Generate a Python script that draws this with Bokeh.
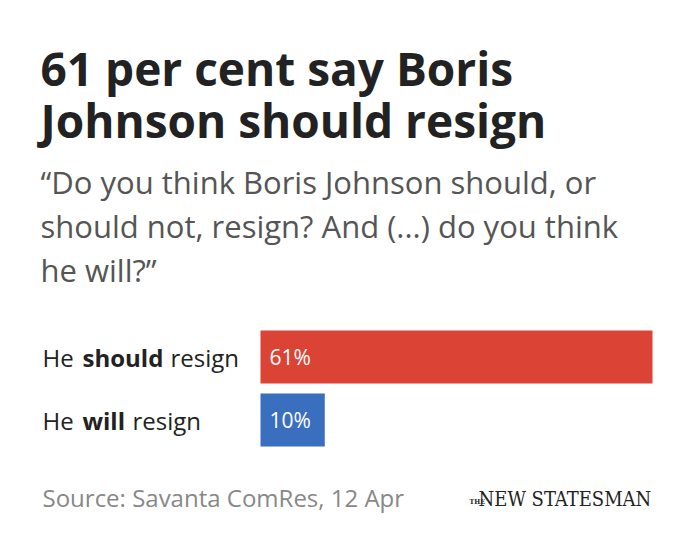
from bokeh.plotting import figure
from bokeh.models import Range1d, Label, ColumnDataSource
from bokeh.core.properties import value
from bokeh.embed import file_html
from bokeh.resources import INLINE

# ---- data ----
title_lines = ["61 per cent say Boris", "Johnson should resign"]
subtitle_lines = ["\u201cDo you think Boris Johnson should, or",
                  "should not, resign? And (...) do you think",
                  "he will?\u201d"]
label_pre = ["He", "He"]
label_bold = ["should", "will"]
label_post = ["resign", "resign"]
values = [61, 10]
value_labels = ["61%", "10%"]
colors = ["#DB4334", "#3A6FBF"]
source_text = "Source: Savanta ComRes, 12 Apr"

W, H = 694, 558
BAR_LEFT = 260
PX_PER_PCT = 392 / 61.0
FONT = "Open Sans"

p = figure(width=W, height=H, output_backend="svg", toolbar_location=None,
           x_range=Range1d(-BAR_LEFT / PX_PER_PCT, (W - BAR_LEFT) / PX_PER_PCT),
           y_range=Range1d(H, 0), min_border=0)
p.axis.visible = False
p.grid.visible = False
p.outline_line_color = None
p.background_fill_color = "white"
p.border_fill_color = "white"

ycent = [356.5, 419.5]
src = ColumnDataSource(dict(y=ycent, right=values, left=[0, 0], color=colors,
                            lab=value_labels, pre=label_pre, bold=label_bold,
                            post=label_post, post_off=[170 - BAR_LEFT, 132 - BAR_LEFT]))
p.hbar(y="y", left="left", right="right", height=53, color="color", source=src, line_color=None)

p.text(x="left", y="y", text="lab", source=src, x_offset=9, text_color="white",
       text_font=value(FONT), text_font_size="21px", text_baseline="middle", text_align="left")
p.text(x="left", y="y", text="pre", source=src, x_offset=42 - BAR_LEFT, text_color="#222222",
       text_font=value(FONT), text_font_size="24px", text_baseline="middle", text_align="left")
p.text(x="left", y="y", text="bold", source=src, x_offset=82 - BAR_LEFT, text_color="#222222",
       text_font=value(FONT), text_font_style="bold", text_font_size="24px",
       text_baseline="middle", text_align="left")
p.text(x="left", y="y", text="post", source=src, x_offset="post_off", text_color="#222222",
       text_font=value(FONT), text_font_size="24px", text_baseline="middle", text_align="left")

for i, t in enumerate(title_lines):
    p.add_layout(Label(x=40, x_units="screen", y=67 + 52 * i, text=t, text_font=FONT,
                       text_font_style="bold", text_font_size="46px", text_color="#222222",
                       text_baseline="alphabetic"))
for i, t in enumerate(subtitle_lines):
    p.add_layout(Label(x=40, x_units="screen", y=181 + 44 * i, text=t, text_font=FONT,
                       text_font_size="31px", text_color="#555555",
                       text_baseline="alphabetic"))

p.add_layout(Label(x=42, x_units="screen", y=497, text=source_text, text_font=FONT,
                   text_font_size="24px", text_color="#888888", text_baseline="alphabetic"))
p.add_layout(Label(x=469, x_units="screen", y=501, text="THE", text_font="DejaVu Serif Condensed",
                   text_font_style="bold", text_font_size="7px", text_color="#222222",
                   text_baseline="alphabetic"))
p.add_layout(Label(x=478, x_units="screen", y=498, text="NEW STATESMAN",
                   text_font="DejaVu Serif Condensed", text_font_size="20px",
                   text_color="#222222", text_baseline="alphabetic"))

open("out.html", "w").write(file_html(p, INLINE))
